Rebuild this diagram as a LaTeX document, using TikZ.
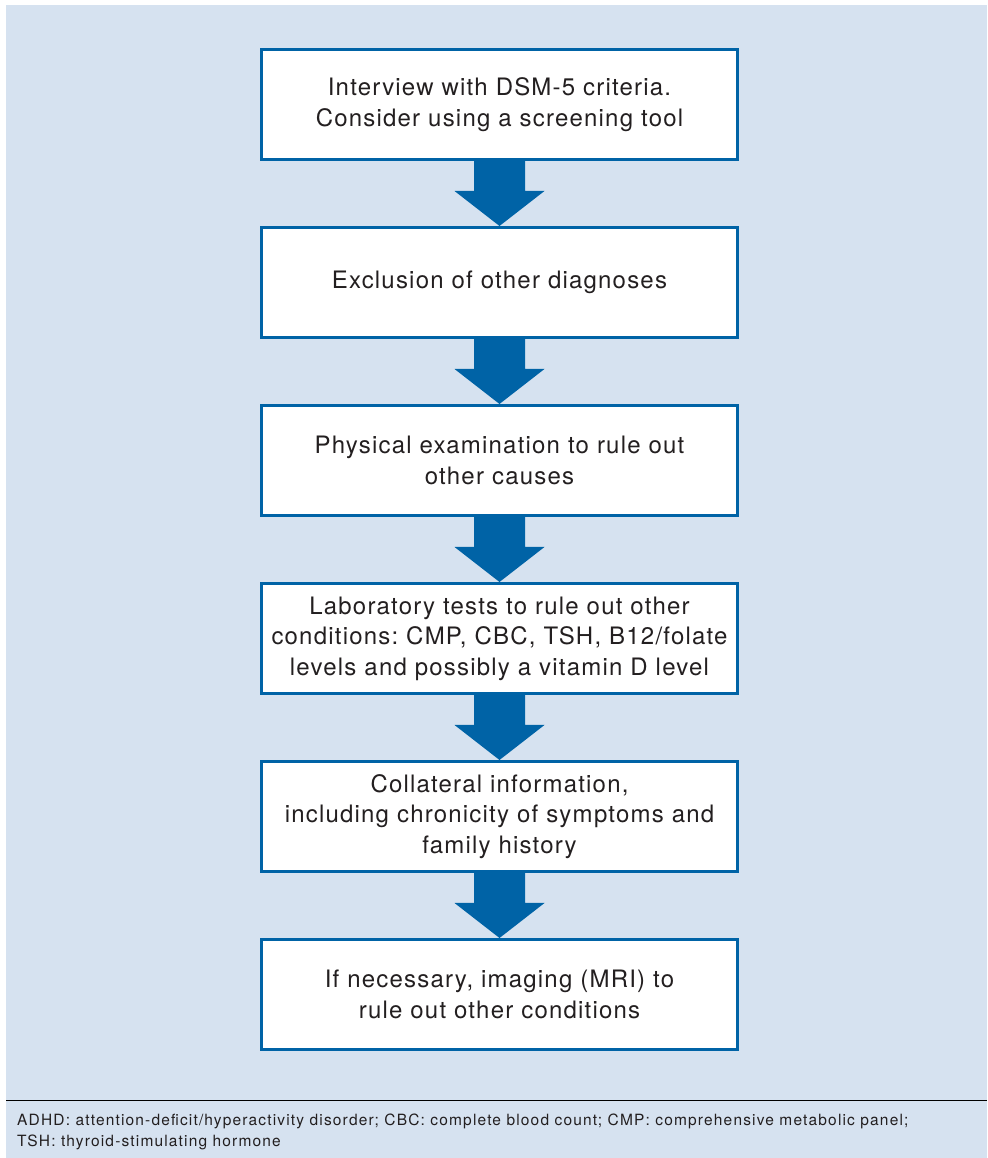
\documentclass[tikz,border=0pt]{standalone}
\usepackage{fontspec}
\setmainfont{TeX Gyre Heros}
\usepackage{tikz}
\usetikzlibrary{positioning,calc}
\definecolor{panelblue}{RGB}{214,226,240}
\definecolor{boxblue}{RGB}{0,99,166}
\definecolor{inktext}{RGB}{35,31,32}
\tikzset{
stepbox/.style={draw=boxblue,line width=3pt,fill=white,minimum width=476pt,minimum height=110pt,
  text width=466pt,align=center,text=inktext,font=\fontsize{24}{30.5}\selectfont\addfontfeatures{LetterSpace=5}},
flowarrow/.style={fill=boxblue}
}
\frenchspacing
\begin{document}
\begin{tikzpicture}[x=1pt,y=1pt,node distance=65pt]
\useasboundingbox[fill=white] (0,0) rectangle (987,1158);
\fill[panelblue] (6,0) rectangle (987,1153);
\node[stepbox] (interview) at (499.5,1053.5) {Interview with DSM-5 criteria.\\Consider using a screening tool};
\node[stepbox,below=of interview] (exclusion) {Exclusion of other diagnoses};
\node[stepbox,below=of exclusion] (physical) {Physical examination to rule out\\other causes};
\node[stepbox,below=of physical] (labtests) {Laboratory tests to rule out other\\conditions: CMP, CBC, TSH, B12/folate\\levels and possibly a vitamin D level};
\node[stepbox,below=of labtests] (collateral) {Collateral information,\\including chronicity of symptoms and\\family history};
\node[stepbox,below=of collateral] (imaging) {If necessary, imaging (MRI) to\\rule out other conditions};
\foreach \a/\b in {interview/exclusion,exclusion/physical,physical/labtests,labtests/collateral,collateral/imaging}
  \fill[flowarrow] ($(\a.south)+(-25.5,1.5)$) -- ($(\a.south)+(-25.5,-30)$) -- ($(\a.south)+(-45,-30)$) -- (\b.north)
    -- ($(\a.south)+(45,-30)$) -- ($(\a.south)+(25.5,-30)$) -- ($(\a.south)+(25.5,1.5)$) -- cycle;
\coordinate (ruleleft) at (6,57.5);
\coordinate (ruleright) at (987,57.5);
\draw[line width=1.2pt,black] (ruleleft) -- (ruleright);
\node[anchor=north west,inner sep=0pt,align=left,text=inktext,font=\fontsize{15.5}{21}\selectfont\addfontfeatures{LetterSpace=7.5}] (abbrev) at (17,44.5)
{ADHD: attention-deficit/hyperactivity disorder; CBC: complete blood count; CMP: comprehensive metabolic panel;\\TSH: thyroid-stimulating hormone};
\end{tikzpicture}
\end{document}
